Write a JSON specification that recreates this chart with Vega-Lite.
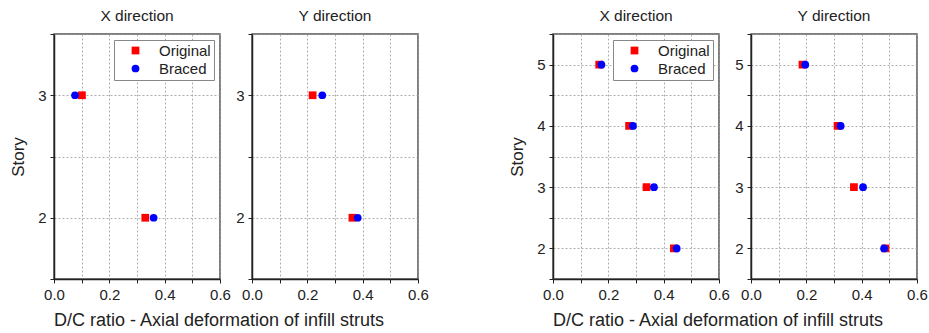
{
  "$schema": "https://vega.github.io/schema/vega-lite/v6.json",
  "background": "white",
  "padding": {"left": 8, "top": 8, "right": 1, "bottom": 2},
  "config": {
    "font": "Liberation Sans",
    "view": {"stroke": "#555", "strokeWidth": 1.5},
    "axis": {"grid": true, "gridDash": [2, 2], "gridColor": "#999", "gridWidth": 0.8, "domainColor": "#222", "domainWidth": 1.5, "tickColor": "#222", "tickSize": 4, "labelFontSize": 15, "labelColor": "#222", "labelFlush": false, "titleFontSize": 17, "titleFontWeight": "normal", "titleColor": "#222", "labelPadding": 4},
    "title": {"fontSize": 15.5, "fontWeight": "normal", "color": "#222", "offset": 9},
    "legend": {"labelFontSize": 15, "labelColor": "#222", "padding": 3, "strokeColor": "#888", "fillColor": "white", "symbolOffset": 11, "labelOffset": 16, "rowPadding": 2, "symbolSize": 60, "symbolStrokeWidth": 0, "offset": 6, "labelLimit": 60}
  },
  "datasets": {
    "d": [
      {"g": "A", "dir": "X", "story": 3, "s": "Original", "v": 0.101},
      {"g": "A", "dir": "X", "story": 2, "s": "Original", "v": 0.33},
      {"g": "A", "dir": "X", "story": 3, "s": "Braced", "v": 0.076},
      {"g": "A", "dir": "X", "story": 2, "s": "Braced", "v": 0.36},
      {"g": "A", "dir": "Y", "story": 3, "s": "Original", "v": 0.219},
      {"g": "A", "dir": "Y", "story": 2, "s": "Original", "v": 0.363},
      {"g": "A", "dir": "Y", "story": 3, "s": "Braced", "v": 0.254},
      {"g": "A", "dir": "Y", "story": 2, "s": "Braced", "v": 0.382},
      {"g": "B", "dir": "X", "story": 5, "s": "Original", "v": 0.167},
      {"g": "B", "dir": "X", "story": 4, "s": "Original", "v": 0.275},
      {"g": "B", "dir": "X", "story": 3, "s": "Original", "v": 0.338},
      {"g": "B", "dir": "X", "story": 2, "s": "Original", "v": 0.437},
      {"g": "B", "dir": "X", "story": 5, "s": "Braced", "v": 0.175},
      {"g": "B", "dir": "X", "story": 4, "s": "Braced", "v": 0.289},
      {"g": "B", "dir": "X", "story": 3, "s": "Braced", "v": 0.365},
      {"g": "B", "dir": "X", "story": 2, "s": "Braced", "v": 0.447},
      {"g": "B", "dir": "Y", "story": 5, "s": "Original", "v": 0.186},
      {"g": "B", "dir": "Y", "story": 4, "s": "Original", "v": 0.313},
      {"g": "B", "dir": "Y", "story": 3, "s": "Original", "v": 0.372},
      {"g": "B", "dir": "Y", "story": 2, "s": "Original", "v": 0.486},
      {"g": "B", "dir": "Y", "story": 5, "s": "Braced", "v": 0.196},
      {"g": "B", "dir": "Y", "story": 4, "s": "Braced", "v": 0.324},
      {"g": "B", "dir": "Y", "story": 3, "s": "Braced", "v": 0.405},
      {"g": "B", "dir": "Y", "story": 2, "s": "Braced", "v": 0.481}
    ]
  },
  "spacing": 77,
  "resolve": {"scale": {"color": "independent", "shape": "independent"}, "legend": {"color": "independent", "shape": "independent"}},
  "hconcat": [
    {
      "title": {"text": "D/C ratio - Axial deformation of infill struts", "orient": "bottom", "anchor": "middle", "fontSize": 18, "offset": 9},
      "spacing": 2,
      "resolve": {"scale": {"color": "independent", "shape": "independent"}, "legend": {"color": "independent", "shape": "independent"}},
      "hconcat": [
        {
          "width": 166, "height": 245,
          "title": {"text": "X direction"},
          "data": {"name": "d"},
          "transform": [{"filter": "datum.g == 'A' && datum.dir == 'X'"}],
          "mark": {"type": "point", "filled": true, "opacity": 1, "size": 60},
          "encoding": {
            "x": {"field": "v", "type": "quantitative", "scale": {"domain": [0, 0.6], "nice": false}, "axis": {"title": null, "labelFontSize": 15, "labelFlush": false, "values": [0, 0.1, 0.2, 0.3, 0.4, 0.5, 0.6], "labelExpr": "round(datum.value*10) % 2 == 0 ? format(datum.value, '.1f') : ''"}},
            "y": {"field": "story", "type": "quantitative", "scale": {"domain": [1.5, 3.5], "nice": false, "zero": false}, "axis": {"title": "Story", "labelFontSize": 15, "labelFlush": false, "titlePadding": 10, "values": [1.5, 2, 2.5, 3, 3.5], "labelExpr": "datum.value % 1 == 0 ? format(datum.value, 'd') : ''"}},
            "color": {"field": "s", "type": "nominal", "scale": {"domain": ["Original", "Braced"], "range": ["#ff0000", "#0000ff"]}, "legend": {"title": null, "orient": "top-right"}},
            "shape": {"field": "s", "type": "nominal", "scale": {"domain": ["Original", "Braced"], "range": ["square", "circle"]}, "legend": {"title": null, "orient": "top-right"}}
          }
        },
        {
          "width": 166, "height": 245,
          "title": {"text": "Y direction"},
          "data": {"name": "d"},
          "transform": [{"filter": "datum.g == 'A' && datum.dir == 'Y'"}],
          "mark": {"type": "point", "filled": true, "opacity": 1, "size": 60},
          "encoding": {
            "x": {"field": "v", "type": "quantitative", "scale": {"domain": [0, 0.6], "nice": false}, "axis": {"title": null, "labelFontSize": 15, "labelFlush": false, "values": [0, 0.1, 0.2, 0.3, 0.4, 0.5, 0.6], "labelExpr": "round(datum.value*10) % 2 == 0 ? format(datum.value, '.1f') : ''"}},
            "y": {"field": "story", "type": "quantitative", "scale": {"domain": [1.5, 3.5], "nice": false, "zero": false}, "axis": {"title": null, "labelFontSize": 15, "labelFlush": false, "values": [1.5, 2, 2.5, 3, 3.5], "labelExpr": "datum.value % 1 == 0 ? format(datum.value, 'd') : ''"}},
            "color": {"field": "s", "type": "nominal", "scale": {"domain": ["Original", "Braced"], "range": ["#ff0000", "#0000ff"]}, "legend": null},
            "shape": {"field": "s", "type": "nominal", "scale": {"domain": ["Original", "Braced"], "range": ["square", "circle"]}, "legend": null}
          }
        }
      ]
    },
    {
      "title": {"text": "D/C ratio - Axial deformation of infill struts", "orient": "bottom", "anchor": "middle", "fontSize": 18, "offset": 9},
      "spacing": 2,
      "resolve": {"scale": {"color": "independent", "shape": "independent"}, "legend": {"color": "independent", "shape": "independent"}},
      "hconcat": [
        {
          "width": 166, "height": 245,
          "title": {"text": "X direction"},
          "data": {"name": "d"},
          "transform": [{"filter": "datum.g == 'B' && datum.dir == 'X'"}],
          "mark": {"type": "point", "filled": true, "opacity": 1, "size": 60},
          "encoding": {
            "x": {"field": "v", "type": "quantitative", "scale": {"domain": [0, 0.6], "nice": false}, "axis": {"title": null, "labelFontSize": 15, "labelFlush": false, "values": [0, 0.1, 0.2, 0.3, 0.4, 0.5, 0.6], "labelExpr": "round(datum.value*10) % 2 == 0 ? format(datum.value, '.1f') : ''"}},
            "y": {"field": "story", "type": "quantitative", "scale": {"domain": [1.5, 5.5], "nice": false, "zero": false}, "axis": {"title": "Story", "labelFontSize": 15, "labelFlush": false, "titlePadding": 10, "values": [1.5, 2, 2.5, 3, 3.5, 4, 4.5, 5, 5.5], "labelExpr": "datum.value % 1 == 0 ? format(datum.value, 'd') : ''"}},
            "color": {"field": "s", "type": "nominal", "scale": {"domain": ["Original", "Braced"], "range": ["#ff0000", "#0000ff"]}, "legend": {"title": null, "orient": "top-right"}},
            "shape": {"field": "s", "type": "nominal", "scale": {"domain": ["Original", "Braced"], "range": ["square", "circle"]}, "legend": {"title": null, "orient": "top-right"}}
          }
        },
        {
          "width": 166, "height": 245,
          "title": {"text": "Y direction"},
          "data": {"name": "d"},
          "transform": [{"filter": "datum.g == 'B' && datum.dir == 'Y'"}],
          "mark": {"type": "point", "filled": true, "opacity": 1, "size": 60},
          "encoding": {
            "x": {"field": "v", "type": "quantitative", "scale": {"domain": [0, 0.6], "nice": false}, "axis": {"title": null, "labelFontSize": 15, "labelFlush": false, "values": [0, 0.1, 0.2, 0.3, 0.4, 0.5, 0.6], "labelExpr": "round(datum.value*10) % 2 == 0 ? format(datum.value, '.1f') : ''"}},
            "y": {"field": "story", "type": "quantitative", "scale": {"domain": [1.5, 5.5], "nice": false, "zero": false}, "axis": {"title": null, "labelFontSize": 15, "labelFlush": false, "values": [1.5, 2, 2.5, 3, 3.5, 4, 4.5, 5, 5.5], "labelExpr": "datum.value % 1 == 0 ? format(datum.value, 'd') : ''"}},
            "color": {"field": "s", "type": "nominal", "scale": {"domain": ["Original", "Braced"], "range": ["#ff0000", "#0000ff"]}, "legend": null},
            "shape": {"field": "s", "type": "nominal", "scale": {"domain": ["Original", "Braced"], "range": ["square", "circle"]}, "legend": null}
          }
        }
      ]
    }
  ]
}
